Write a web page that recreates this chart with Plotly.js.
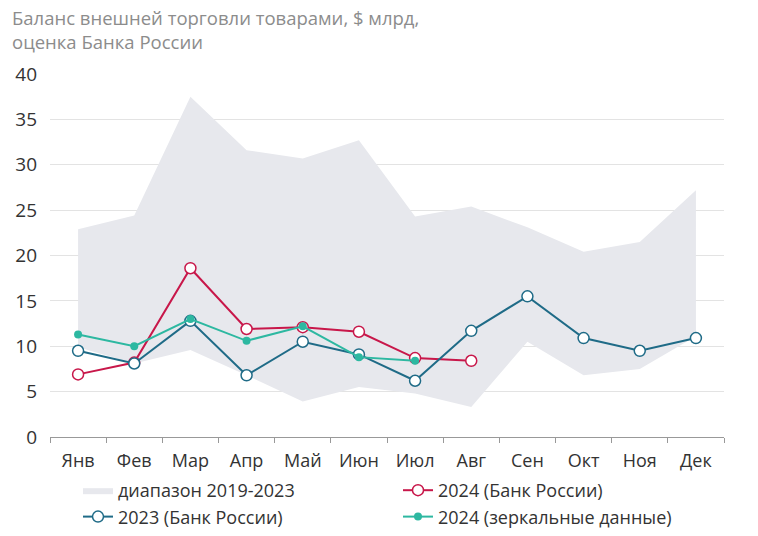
<!DOCTYPE html>
<html>
<head>
<meta charset="utf-8">
<script src="https://cdn.plot.ly/plotly-3.0.1.min.js"></script>
<style>html,body{margin:0;padding:0;background:#fff}#chart{width:758px;height:536px}</style>
</head>
<body>
<div id="chart"></div>
<script>
const months = ["Янв","Фев","Мар","Апр","Май","Июн","Июл","Авг","Сен","Окт","Ноя","Дек"];
const rangeLow  = [9.9, 8.1, 9.6, 6.8, 3.9, 5.5, 4.8, 3.3, 10.5, 6.8, 7.5, 11.1];
const rangeHigh = [22.9, 24.4, 37.5, 31.6, 30.7, 32.7, 24.3, 25.4, 23.1, 20.4, 21.5, 27.2];
const cbr2024 = [6.9, 8.2, 18.6, 11.9, 12.1, 11.6, 8.7, 8.4];
const cbr2023 = [9.5, 8.1, 12.8, 6.8, 10.5, 9.1, 6.2, 11.7, 15.5, 10.9, 9.5, 10.9];
const mirror2024 = [11.3, 10.0, 13.0, 10.6, 12.2, 8.8, 8.4];

const red = "#c8174a", blue = "#1f6b87", teal = "#2db8a1", band = "#e7e8ed";
const font = "Open Sans, Lato, sans-serif";

const traces = [
  {x: months, y: rangeLow, type: "scatter", mode: "lines", line: {width: 0, color: band},
   showlegend: false, hoverinfo: "skip"},
  {x: months, y: rangeHigh, type: "scatter", mode: "lines", fill: "tonexty", fillcolor: band,
   line: {width: 0, color: band}, name: "диапазон 2019-2023"},
  {x: months.slice(0, cbr2024.length), y: cbr2024, type: "scatter", mode: "lines+markers",
   name: "2024 (Банк России)", line: {color: red, width: 2},
   marker: {symbol: "circle", size: 11, color: "#fff", line: {color: red, width: 1.5}}},
  {x: months, y: cbr2023, type: "scatter", mode: "lines+markers",
   name: "2023 (Банк России)", line: {color: blue, width: 2},
   marker: {symbol: "circle", size: 11, color: "#fff", line: {color: blue, width: 1.5}}},
  {x: months.slice(0, mirror2024.length), y: mirror2024, type: "scatter", mode: "lines+markers",
   name: "2024 (зеркальные данные)", line: {color: teal, width: 2},
   marker: {symbol: "circle", size: 8, color: teal}}
];

const layout = {
  width: 758, height: 536,
  margin: {l: 50, r: 34, t: 74, b: 99},
  paper_bgcolor: "#fff", plot_bgcolor: "#fff",
  font: {family: font, size: 17, color: "#333"},
  title: {text: "Баланс внешней торговли товарами, $ млрд,<br>оценка Банка России",
    x: 12/758, xref: "container", xanchor: "left", y: 0.953, yref: "container", yanchor: "top",
    font: {family: font, size: 18.5, color: "#8c8c8c"}},
  xaxis: {type: "category", range: [-0.5, 11.5], tickson: "boundaries", ticks: "outside", ticklen: 5, tickcolor: "#999",
    showline: true, linecolor: "#999", linewidth: 1, showgrid: false, zeroline: false,
    ticklabelstandoff: 7, automargin: false,
    tickfont: {size: 18, color: "#333"}, fixedrange: true},
  yaxis: {range: [0, 40], tickvals: [0,5,10,15,20,25,30,35,40], showgrid: true, gridcolor: "#e3e3e3",
    zeroline: false, showline: false, ticks: "", ticklabelstandoff: 12, automargin: false,
    tickfont: {size: 19, color: "#333"}, fixedrange: true},
  legend: {orientation: "h", x: 78/758, xref: "container", xanchor: "left", y: 64/536, yref: "container", yanchor: "top",
    entrywidth: 275, entrywidthmode: "pixels", font: {size: 18, color: "#333"}, traceorder: "normal",
    itemwidth: 30, tracegroupgap: 0},
  showlegend: true
};

Plotly.newPlot("chart", traces, layout, {displayModeBar: false, staticPlot: true});
</script>
</body>
</html>
